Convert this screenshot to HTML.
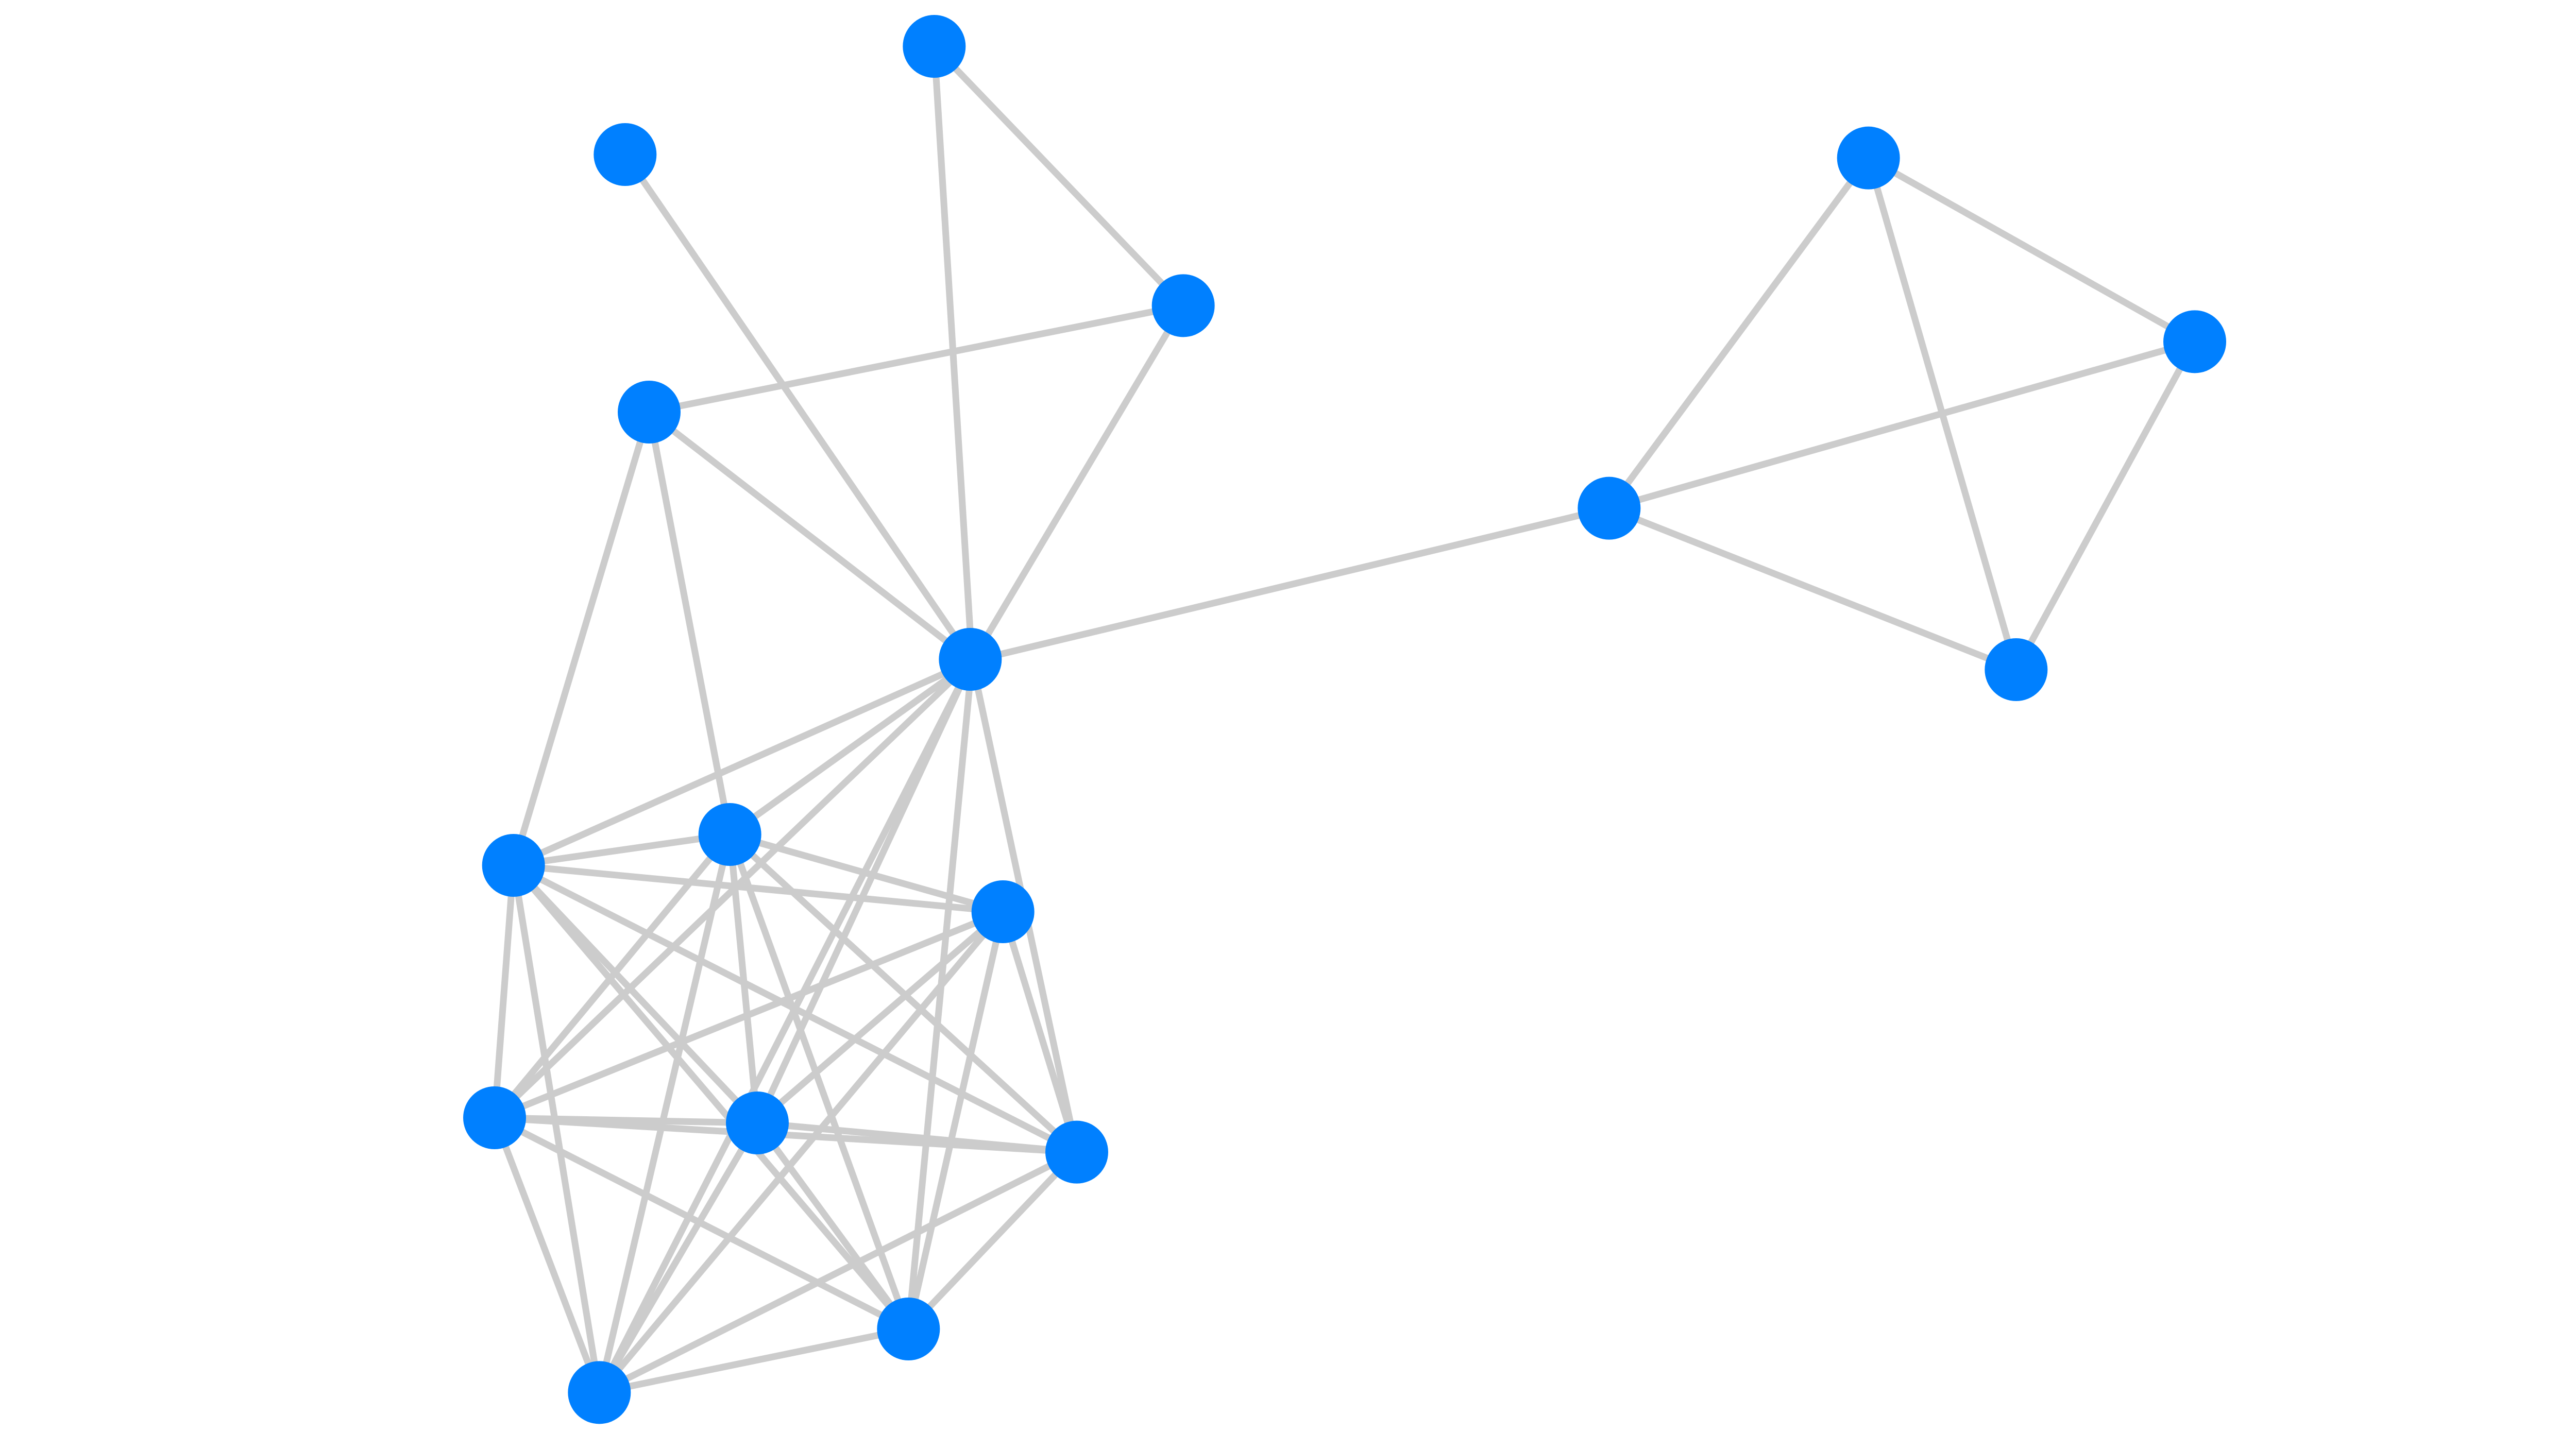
<!DOCTYPE html>
<html><head><meta charset="utf-8"><style>
html,body{margin:0;padding:0;background:#fff;width:5200px;height:2780px;overflow:hidden}
svg{display:block}
</style></head><body>
<svg width="5200" height="2780" viewBox="0 0 1560 834" xmlns="http://www.w3.org/2000/svg">
<g stroke="#cccccc" stroke-width="3.9" stroke-linecap="butt">
<line x1="544" y1="27" x2="689" y2="178"/>
<line x1="544" y1="27" x2="566" y2="385"/>
<line x1="364" y1="90" x2="566" y2="385"/>
<line x1="689" y1="178" x2="378" y2="240"/>
<line x1="689" y1="178" x2="566" y2="385"/>
<line x1="378" y1="240" x2="566" y2="385"/>
<line x1="378" y1="240" x2="299" y2="504"/>
<line x1="378" y1="240" x2="425" y2="486"/>
<line x1="566" y1="385" x2="937" y2="296"/>
<line x1="937" y1="296" x2="1088" y2="92"/>
<line x1="937" y1="296" x2="1278" y2="199"/>
<line x1="937" y1="296" x2="1174" y2="390"/>
<line x1="1088" y1="92" x2="1278" y2="199"/>
<line x1="1088" y1="92" x2="1174" y2="390"/>
<line x1="1278" y1="199" x2="1174" y2="390"/>
<line x1="566" y1="385" x2="299" y2="504"/>
<line x1="566" y1="385" x2="425" y2="486"/>
<line x1="566" y1="385" x2="288" y2="651"/>
<line x1="566" y1="385" x2="441" y2="654"/>
<line x1="566" y1="385" x2="627" y2="671"/>
<line x1="566" y1="385" x2="529" y2="774"/>
<line x1="566" y1="385" x2="349" y2="811"/>
<line x1="299" y1="504" x2="425" y2="486"/>
<line x1="299" y1="504" x2="584" y2="531"/>
<line x1="299" y1="504" x2="288" y2="651"/>
<line x1="299" y1="504" x2="441" y2="654"/>
<line x1="299" y1="504" x2="627" y2="671"/>
<line x1="299" y1="504" x2="529" y2="774"/>
<line x1="299" y1="504" x2="349" y2="811"/>
<line x1="425" y1="486" x2="584" y2="531"/>
<line x1="425" y1="486" x2="288" y2="651"/>
<line x1="425" y1="486" x2="441" y2="654"/>
<line x1="425" y1="486" x2="627" y2="671"/>
<line x1="425" y1="486" x2="529" y2="774"/>
<line x1="425" y1="486" x2="349" y2="811"/>
<line x1="584" y1="531" x2="288" y2="651"/>
<line x1="584" y1="531" x2="441" y2="654"/>
<line x1="584" y1="531" x2="627" y2="671"/>
<line x1="584" y1="531" x2="529" y2="774"/>
<line x1="584" y1="531" x2="349" y2="811"/>
<line x1="288" y1="651" x2="441" y2="654"/>
<line x1="288" y1="651" x2="627" y2="671"/>
<line x1="288" y1="651" x2="529" y2="774"/>
<line x1="288" y1="651" x2="349" y2="811"/>
<line x1="441" y1="654" x2="627" y2="671"/>
<line x1="441" y1="654" x2="529" y2="774"/>
<line x1="441" y1="654" x2="349" y2="811"/>
<line x1="627" y1="671" x2="529" y2="774"/>
<line x1="627" y1="671" x2="349" y2="811"/>
<line x1="529" y1="774" x2="349" y2="811"/>
</g>
<g fill="#0080ff">
<circle cx="544" cy="27" r="18.3"/>
<circle cx="364" cy="90" r="18.3"/>
<circle cx="689" cy="178" r="18.3"/>
<circle cx="378" cy="240" r="18.3"/>
<circle cx="565" cy="384" r="18.3"/>
<circle cx="1088" cy="92" r="18.3"/>
<circle cx="1278" cy="199" r="18.3"/>
<circle cx="937" cy="296" r="18.3"/>
<circle cx="1174" cy="390" r="18.3"/>
<circle cx="299" cy="504" r="18.3"/>
<circle cx="425" cy="486" r="18.3"/>
<circle cx="584" cy="531" r="18.3"/>
<circle cx="288" cy="651" r="18.3"/>
<circle cx="441" cy="654" r="18.3"/>
<circle cx="627" cy="671" r="18.3"/>
<circle cx="529" cy="774" r="18.3"/>
<circle cx="349" cy="811" r="18.3"/>
</g>
</svg>
</body></html>
